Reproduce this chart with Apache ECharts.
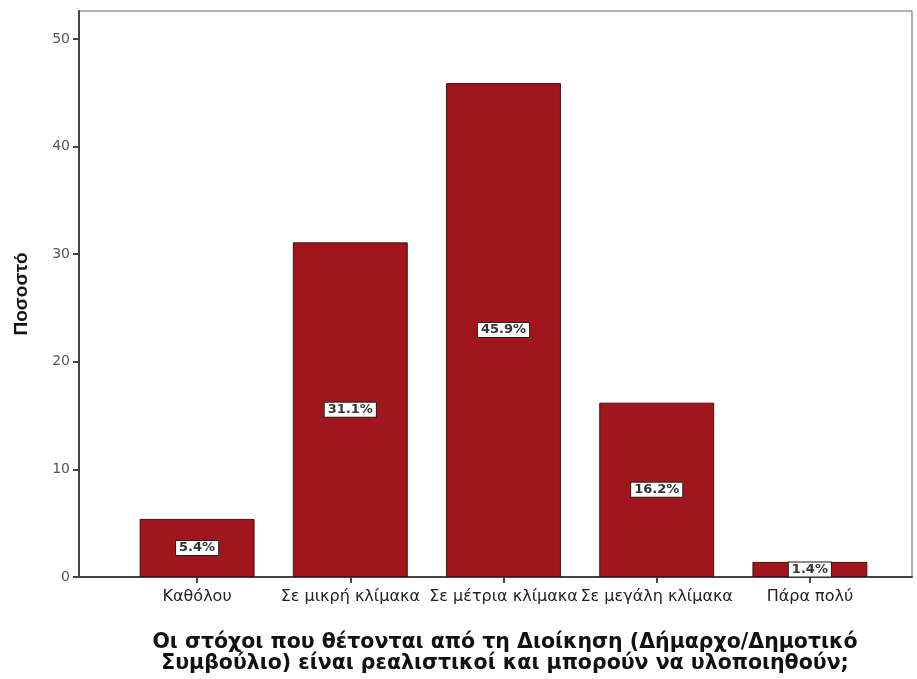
<!DOCTYPE html>
<html>
<head>
<meta charset="utf-8">
<script src="https://cdn.jsdelivr.net/npm/echarts@6/dist/echarts.min.js"></script>
<style>
  html, body { margin: 0; padding: 0; background: #ffffff; }
  #chart { width: 917px; height: 679px; }
</style>
</head>
<body>
<div id="chart"></div>
<script>
// Response categories
const categories = ['Καθόλου', 'Σε μικρή κλίμακα', 'Σε μέτρια κλίμακα', 'Σε μεγάλη κλίμακα', 'Πάρα πολύ'];
// Percentage of respondents per category
const percentages = [5.4, 31.1, 45.9, 16.2, 1.4];
// Y-axis tick values
const yTicks = [0, 10, 20, 30, 40, 50];

const yMax = 52.6;
const chart = echarts.init(document.getElementById('chart'));

chart.setOption({
  animation: false,
  backgroundColor: '#ffffff',
  title: {
    text: 'Οι στόχοι που θέτονται από τη Διοίκηση (Δήμαρχο/Δημοτικό\nΣυμβούλιο) είναι ρεαλιστικοί και μπορούν να υλοποιηθούν;',
    left: 500,
    top: 627,
    textAlign: 'center',
    textStyle: {
      fontFamily: 'DejaVu Sans',
      fontWeight: 'bold',
      fontSize: 20.5,
      lineHeight: 21,
      color: '#111111'
    }
  },
  grid: [
    // outer frame holding the value axis
    { left: 79, right: 5, top: 11, bottom: 102, show: true, borderColor: '#666666', borderWidth: 1, backgroundColor: 'transparent' },
    // inner band area for the bars
    { left: 120.5, right: 30.5, top: 11, bottom: 102 }
  ],
  xAxis: [
    {
      gridIndex: 0, type: 'value', min: 0, max: 1, show: true,
      axisLine: { show: true, onZero: false, lineStyle: { color: '#444444', width: 2 } },
      axisTick: { show: false }, axisLabel: { show: false }, splitLine: { show: false }
    },
    {
      gridIndex: 1, type: 'category', data: categories,
      axisLine: { show: false },
      axisTick: { show: true, alignWithLabel: true, length: 6, lineStyle: { color: '#444444', width: 2 } },
      axisLabel: { fontFamily: 'DejaVu Sans', fontSize: 16, color: '#222222', margin: 12, interval: 0 }
    }
  ],
  yAxis: [
    {
      gridIndex: 0, type: 'value', min: 0, max: yMax,
      name: 'Ποσοστό', nameLocation: 'middle', nameGap: 48, nameRotate: 90,
      nameTextStyle: { fontFamily: 'Liberation Sans', fontWeight: 'bold', fontSize: 19, color: '#111111' },
      axisLine: { show: true, lineStyle: { color: '#444444', width: 2 } },
      axisTick: { show: true, length: 6, customValues: yTicks, lineStyle: { color: '#444444', width: 2 } },
      axisLabel: { customValues: yTicks, fontFamily: 'DejaVu Sans', fontSize: 14, color: '#555555', margin: 9 },
      splitLine: { show: false }
    },
    {
      gridIndex: 1, type: 'value', min: 0, max: yMax, show: false
    }
  ],
  series: [{
    type: 'bar',
    xAxisIndex: 1,
    yAxisIndex: 1,
    data: percentages,
    barCategoryGap: '25%',
    itemStyle: { color: '#a0161c', borderColor: '#4a0d0d', borderWidth: 1 },
    label: {
      show: true,
      position: 'inside',
      formatter: p => p.value.toFixed(1) + '%',
      fontFamily: 'DejaVu Sans',
      fontWeight: 'bold',
      fontSize: 13,
      color: '#333333',
      backgroundColor: '#ffffff',
      borderColor: '#222222',
      borderWidth: 1,
      padding: [1, 3, 0, 3]
    }
  }]
});
</script>
</body>
</html>
